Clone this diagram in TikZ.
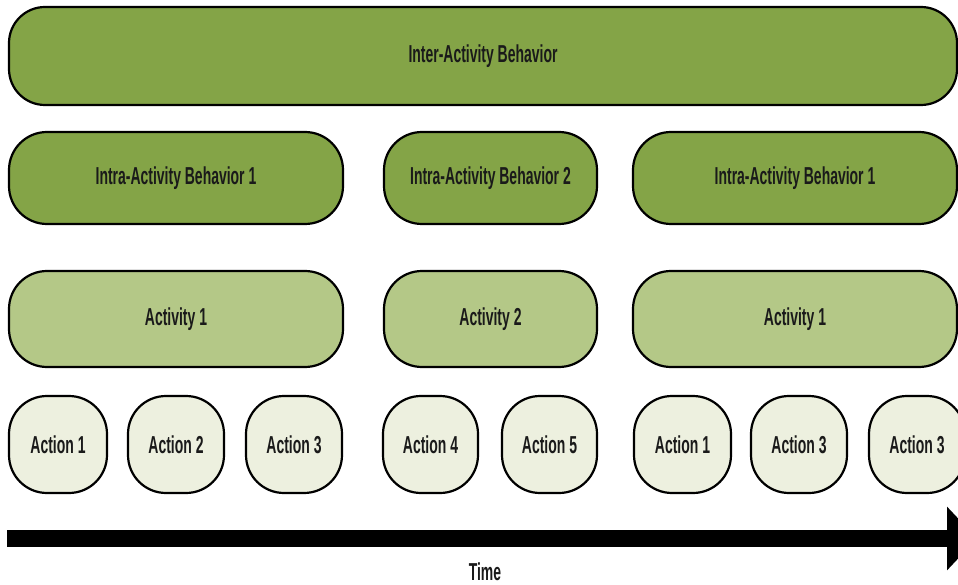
\documentclass[tikz,border=0pt]{standalone}
\usepackage{fontspec}
\setmainfont{Liberation Sans}[FakeStretch=0.57]
\usetikzlibrary{arrows.meta}
\definecolor{darkg}{HTML}{84A447}
\definecolor{midg}{HTML}{B4C887}
\definecolor{lightg}{HTML}{EDF0DF}
\definecolor{ink}{HTML}{1A1A1A}
\tikzset{
  box/.style={draw=black, line width=2.2pt, rounded corners=38pt, inner sep=0pt,
    font=\fontsize{24.5}{27}\selectfont\bfseries, text=ink},
  top/.style={box, fill=darkg, rounded corners=36pt},
  intra/.style={box, fill=darkg},
  activ/.style={box, fill=midg},
  act/.style={box, fill=lightg, rounded corners=38pt},
}
% \bx{name}{x1}{y1}{x2}{y2}{style}{text}
\newcommand{\bx}[7]{%
  \node[#6, minimum width={#4-#2-2}, minimum height={#5-#3-2}]
    (#1) at ({(#2+#4)/2},{(#3+#5)/2}) {#7};}
\begin{document}
\begin{tikzpicture}[x=1pt,y=-1pt]
\useasboundingbox (0,0) rectangle (958,585);
\clip (0,0) rectangle (958,585);
\fill[white] (0,0) rectangle (958,585);
\bx{inter}{8}{6}{958}{106}{top}{Inter-Activity Behavior}
\bx{intraA}{8}{131}{344}{225}{intra}{Intra-Activity Behavior 1}
\bx{intraB}{383}{131}{598}{225}{intra}{Intra-Activity Behavior 2}
\bx{intraC}{632}{131}{958}{225}{intra}{Intra-Activity Behavior 1}
\bx{actA}{8}{270}{344}{368}{activ}{Activity 1}
\bx{actB}{383}{270}{598}{368}{activ}{Activity 2}
\bx{actC}{632}{270}{958}{368}{activ}{Activity 1}
\bx{a1}{8}{395}{108}{494}{act}{Action 1}
\bx{a2}{127}{395}{225}{494}{act}{Action 2}
\bx{a3}{245}{395}{343}{494}{act}{Action 3}
\bx{a4}{382}{395}{479}{494}{act}{Action 4}
\bx{a5}{501}{395}{598}{494}{act}{Action 5}
\bx{a6}{633}{395}{732}{494}{act}{Action 1}
\bx{a7}{750}{395}{848}{494}{act}{Action 3}
\bx{a8}{868}{395}{966}{494}{act}{Action 3}
\coordinate (t0) at (7,538.5);
\coordinate (t1) at (977,538.5);
\draw[line width=17pt, -{Triangle[length=30pt,width=62pt]}] (t0) -- (t1);
\node[font=\fontsize{24.5}{27}\selectfont\bfseries, text=ink] (time) at (485,572) {Time};
\end{tikzpicture}
\end{document}
